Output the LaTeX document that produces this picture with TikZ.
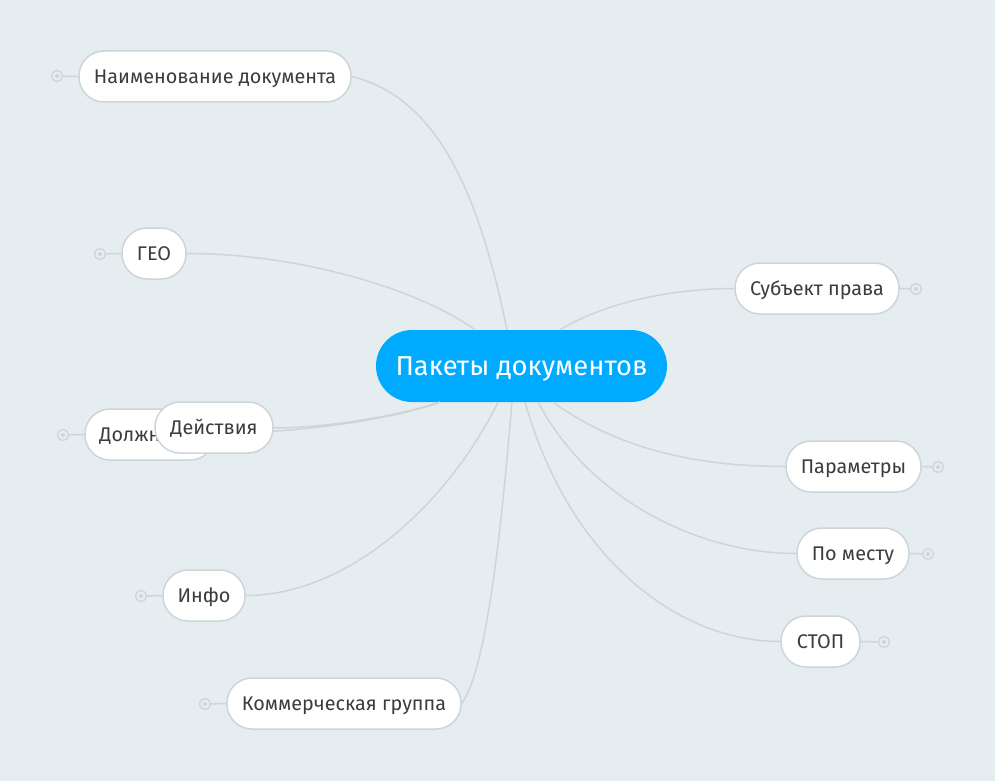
\documentclass[tikz,border=0pt]{standalone}
\usepackage{fontspec}
\setmainfont{Fira Sans}
\usetikzlibrary{calc}

\definecolor{bgc}{HTML}{E6EDF0}
\definecolor{linec}{HTML}{CDD5D9}
\definecolor{mainc}{HTML}{00AAFF}
\definecolor{textc}{HTML}{3C3C3C}

\begin{document}
\begin{tikzpicture}[x=1pt,y=-1pt,
        topic/.style={draw=linec,line width=1.5pt,fill=white,text=textc,
            rounded corners=25pt,minimum height=51pt,inner sep=0pt,
            text height=14pt,text depth=0pt,
            font=\fontsize{19.8}{24}\selectfont},
        root/.style={fill=mainc,text=white,rounded corners=36pt,
            minimum width=291pt,minimum height=72pt,inner sep=0pt,
            text height=19pt,text depth=0pt,
            font=\fontsize{27.3}{32}\selectfont},
        link/.style={draw=linec,line width=1.5pt},
        marker/.style={circle,draw=linec,line width=1.3pt,fill=bgc,
            minimum size=11pt,inner sep=0pt,
            path picture={\fill[linec] (path picture bounding box.center) circle (2pt);}}]
            \fill[bgc] (0,0) rectangle (995,781);
            \useasboundingbox (0,0) rectangle (995,781);

            \node[root] (pkg) at (521.5,366) {Пакеты документов};

            \node[topic,minimum width=272pt] (naim) at (215,76.5) {Наименование документа};
            \node[topic,minimum width=64pt] (geo) at (154,253.5) {ГЕО};
            \node[topic,minimum width=82pt] (info) at (204,595.5) {Инфо};
            \node[topic,minimum width=234pt] (komm) at (344,703.5) {Коммерческая группа};
            \node[topic,minimum width=164pt] (subj) at (817,288.5) {Субъект права};
            \node[topic,minimum width=135pt] (param) at (853.5,466.5) {Параметры};
            \node[topic,minimum width=112pt] (mesto) at (853,553.5) {По месту};
            \node[topic,minimum width=79pt] (stop) at (820.5,641.5) {СТОП};

            % connectors from the root
            \draw[link] (naim.east) .. controls +(89,22) and +(-27,-130) .. ([xshift=-14.5pt]pkg.north);
            \draw[link] (geo.east) .. controls +(114,0) and +(-55,-40) .. ([xshift=-46.5pt]pkg.north);
            \draw[link] (217,434) .. controls +(85,-2) and +(-50,18) .. ([xshift=-81.5pt]pkg.south);
            \draw[link] (info.east) .. controls +(105,0) and +(-48,98) .. ([xshift=-23.5pt]pkg.south);
            \draw[link] (komm.east) .. controls +(29,-40) and +(-7,78) .. ([xshift=-9.5pt]pkg.south);
            \draw[link] ([xshift=38.5pt]pkg.north) .. controls +(50,-30) and +(-55,0) .. (subj.west);
            \draw[link] ([xshift=31.5pt]pkg.south) .. controls +(67,48) and +(-86,0) .. (param.west);
            \draw[link] ([xshift=16.5pt]pkg.south) .. controls +(52,98) and +(-97,0) .. (mesto.west);
            \draw[link] ([xshift=3.5pt]pkg.south) .. controls +(45,158) and +(-101,0) .. (stop.west);

            % overlapping pair on the left
            \node[topic,minimum width=130pt] (dolzh) at (150,434.5) {Должность};
            \draw[link] (273,428) .. controls +(47,0) and +(-50,16) .. ([xshift=-81.5pt]pkg.south);
            \node[topic,minimum width=118pt] (deis) at (214,427.5) {Действия};

            % collapse markers
            \node[marker] (mnaim) at (57,76) {};
            \node[marker] (mgeo) at (100,254) {};
            \node[marker] (mdolzh) at (63,435) {};
            \node[marker] (minfo) at (141,596) {};
            \node[marker] (mkomm) at (205,704) {};
            \node[marker] (msubj) at (916,289) {};
            \node[marker] (mparam) at (938,467) {};
            \node[marker] (mmesto) at (928,554) {};
            \node[marker] (mstop) at (884,642) {};
            \draw[link] (mnaim) -- (naim.west);
            \draw[link] (mgeo) -- (geo.west);
            \draw[link] (mdolzh) -- (dolzh.west);
            \draw[link] (minfo) -- (info.west);
            \draw[link] (mkomm) -- (komm.west);
            \draw[link] (msubj) -- (subj.east);
            \draw[link] (mparam) -- (param.east);
            \draw[link] (mmesto) -- (mesto.east);
            \draw[link] (mstop) -- (stop.east);
        \end{tikzpicture}
\end{document}
